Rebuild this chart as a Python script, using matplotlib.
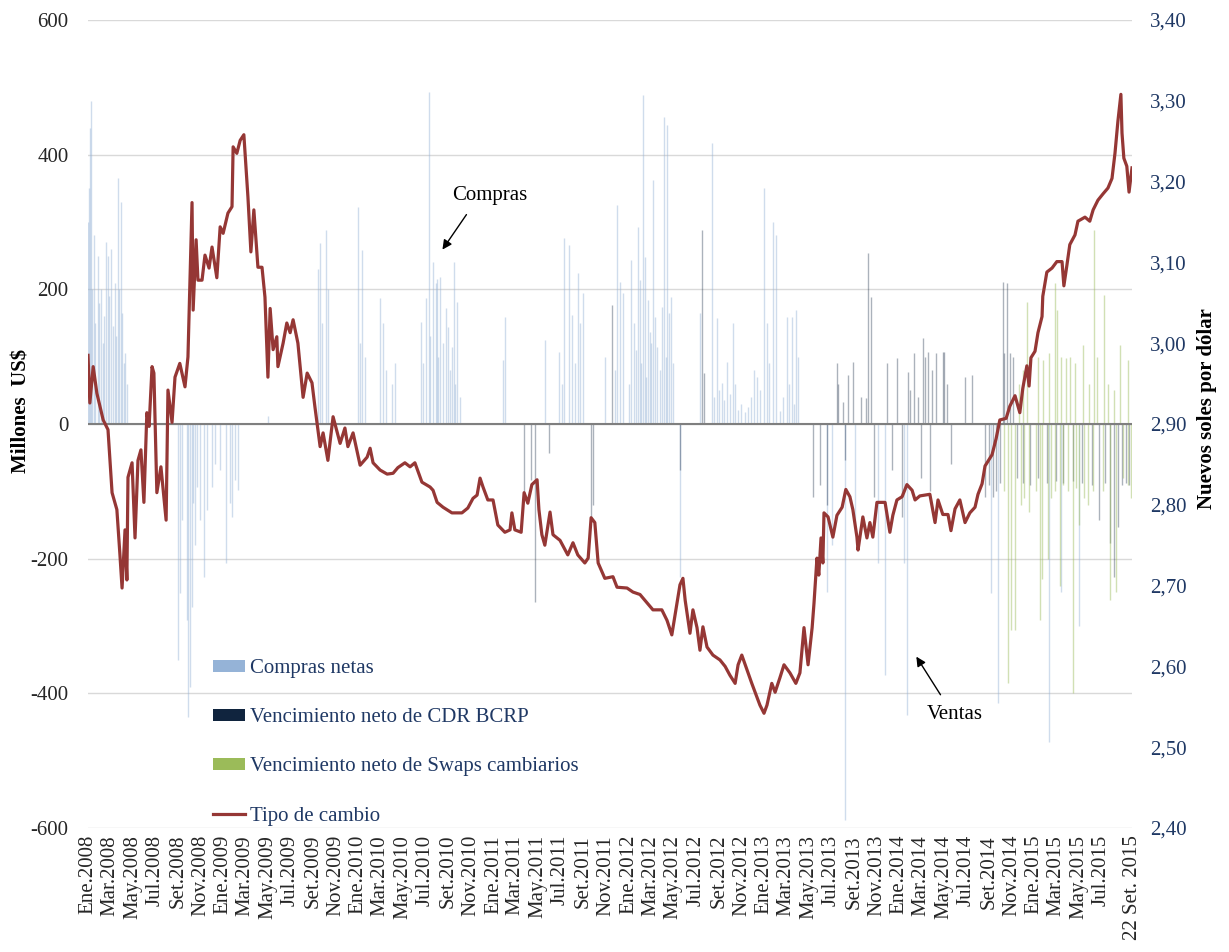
import matplotlib
matplotlib.use("Agg")
import matplotlib.pyplot as plt
from matplotlib.patches import Patch
from matplotlib.lines import Line2D
from matplotlib.ticker import FuncFormatter
import pandas as pd

# Tipo de cambio (soles por dolar)
tc_fechas = [
    "2008-01-02", "2008-01-07", "2008-01-16", "2008-01-26", "2008-02-12", "2008-02-25", "2008-03-07", "2008-03-20",
    "2008-03-28", "2008-04-03", "2008-04-11", "2008-04-16", "2008-04-19", "2008-04-30", "2008-05-08", "2008-05-16",
    "2008-05-24", "2008-06-01", "2008-06-09", "2008-06-15", "2008-06-23", "2008-06-28", "2008-07-06", "2008-07-17",
    "2008-07-31", "2008-08-05", "2008-08-16", "2008-08-24", "2008-09-06", "2008-09-20", "2008-09-28", "2008-10-09",
    "2008-10-12", "2008-10-20", "2008-10-25", "2008-11-05", "2008-11-13", "2008-11-24", "2008-12-02", "2008-12-15",
    "2008-12-24",
    "2009-01-01", "2009-01-14", "2009-01-25", "2009-01-28", "2009-02-07", "2009-02-16", "2009-02-26", "2009-03-09",
    "2009-03-17", "2009-03-25", "2009-04-05", "2009-04-16", "2009-04-24", "2009-05-02", "2009-05-08", "2009-05-16",
    "2009-05-26", "2009-05-29", "2009-06-12", "2009-06-22", "2009-07-01", "2009-07-09", "2009-07-22", "2009-08-05",
    "2009-08-16", "2009-08-29", "2009-09-06", "2009-09-20", "2009-09-28", "2009-10-11", "2009-10-25", "2009-11-13",
    "2009-11-26", "2009-12-04", "2009-12-18",
    "2010-01-06", "2010-01-25", "2010-02-02", "2010-02-10", "2010-03-01", "2010-03-20", "2010-04-05", "2010-04-18",
    "2010-05-07", "2010-05-21", "2010-06-03", "2010-06-22", "2010-07-14", "2010-07-22", "2010-08-02", "2010-08-18",
    "2010-09-11", "2010-10-08", "2010-10-24", "2010-11-07", "2010-11-18", "2010-11-26", "2010-12-04", "2010-12-17",
    "2010-12-31",
    "2011-01-13", "2011-02-01", "2011-02-15", "2011-02-20", "2011-02-28", "2011-03-17", "2011-03-25", "2011-04-04",
    "2011-04-15", "2011-04-29", "2011-05-04", "2011-05-12", "2011-05-20", "2011-06-03", "2011-06-11", "2011-06-30",
    "2011-07-21", "2011-08-04", "2011-08-17", "2011-09-05", "2011-09-14", "2011-09-22", "2011-10-02", "2011-10-11",
    "2011-10-29", "2011-11-20", "2011-12-01", "2011-12-28",
    "2012-01-13", "2012-02-01", "2012-03-07", "2012-03-31", "2012-04-14", "2012-04-27", "2012-05-08", "2012-05-19",
    "2012-05-27", "2012-06-02", "2012-06-15", "2012-06-23", "2012-07-04", "2012-07-12", "2012-07-20", "2012-07-31",
    "2012-08-16", "2012-09-04", "2012-09-18", "2012-10-01", "2012-10-15", "2012-10-23", "2012-11-02", "2012-11-16",
    "2012-11-29", "2012-12-13", "2012-12-21",
    "2013-01-01", "2013-01-09", "2013-01-22", "2013-01-31", "2013-02-13", "2013-02-24", "2013-03-12", "2013-03-28",
    "2013-04-08", "2013-04-19", "2013-04-30", "2013-05-11", "2013-05-16", "2013-05-24", "2013-05-29", "2013-06-04",
    "2013-06-09", "2013-06-12", "2013-06-23", "2013-07-06", "2013-07-17", "2013-07-31", "2013-08-10", "2013-08-21",
    "2013-08-29", "2013-09-09", "2013-09-12", "2013-09-25", "2013-10-06", "2013-10-14", "2013-10-22", "2013-11-02",
    "2013-11-24", "2013-12-07", "2013-12-15", "2013-12-26",
    "2014-01-09", "2014-01-22", "2014-02-05", "2014-02-13", "2014-02-26", "2014-03-25", "2014-04-08", "2014-04-16",
    "2014-04-29", "2014-05-13", "2014-05-21", "2014-06-01", "2014-06-14", "2014-06-28", "2014-07-11", "2014-07-25",
    "2014-08-02", "2014-08-13", "2014-08-21", "2014-09-09", "2014-09-20", "2014-09-30", "2014-10-17", "2014-10-27",
    "2014-11-10", "2014-11-23", "2014-12-01", "2014-12-12", "2014-12-18", "2014-12-23",
    "2015-01-03", "2015-01-11", "2015-01-22", "2015-01-24", "2015-02-04", "2015-02-18", "2015-03-03", "2015-03-17",
    "2015-03-22", "2015-03-30", "2015-04-07", "2015-04-21", "2015-04-29", "2015-05-18", "2015-05-31", "2015-06-09",
    "2015-06-22", "2015-07-06", "2015-07-19", "2015-07-30", "2015-08-07", "2015-08-15", "2015-08-23", "2015-08-26",
    "2015-08-31", "2015-09-08", "2015-09-14", "2015-09-22",
]
tc_valores = [
    2.985, 2.926, 2.971, 2.938, 2.905, 2.893, 2.815, 2.794,
    2.740, 2.697, 2.769, 2.707, 2.834, 2.852, 2.759, 2.855,
    2.868, 2.803, 2.914, 2.897, 2.971, 2.963, 2.815, 2.847,
    2.781, 2.942, 2.902, 2.958, 2.975, 2.946, 2.983, 3.174,
    3.041, 3.128, 3.078, 3.078, 3.109, 3.093, 3.119, 3.081,
    3.144,
    3.136, 3.161, 3.169, 3.243, 3.235, 3.251, 3.258, 3.181,
    3.113, 3.165, 3.094, 3.094, 3.057, 2.958, 3.043, 2.992,
    3.008, 2.971, 3.000, 3.025, 3.013, 3.029, 3.000, 2.933,
    2.963, 2.951, 2.921, 2.872, 2.889, 2.855, 2.909, 2.876,
    2.895, 2.872, 2.889,
    2.849, 2.859, 2.870, 2.852, 2.843, 2.838, 2.839, 2.846,
    2.852, 2.847, 2.852, 2.828, 2.822, 2.818, 2.803, 2.797,
    2.790, 2.790, 2.796, 2.808, 2.812, 2.833, 2.822, 2.806,
    2.806,
    2.775, 2.766, 2.769, 2.790, 2.769, 2.766, 2.815, 2.802,
    2.825, 2.831, 2.794, 2.763, 2.750, 2.791, 2.763, 2.756,
    2.738, 2.753, 2.738, 2.728, 2.734, 2.784, 2.778, 2.728,
    2.709, 2.711, 2.698, 2.697,
    2.692, 2.689, 2.670, 2.670, 2.657, 2.639, 2.670, 2.701,
    2.709, 2.682, 2.641, 2.670, 2.648, 2.620, 2.649, 2.624,
    2.614, 2.608, 2.600, 2.589, 2.579, 2.602, 2.614, 2.596,
    2.579, 2.562, 2.552,
    2.542, 2.552, 2.579, 2.568, 2.586, 2.602, 2.592, 2.579,
    2.592, 2.648, 2.602, 2.648, 2.678, 2.734, 2.713, 2.759,
    2.728, 2.790, 2.785, 2.760, 2.787, 2.797, 2.819, 2.810,
    2.794, 2.760, 2.744, 2.785, 2.759, 2.778, 2.760, 2.803,
    2.803, 2.766, 2.787, 2.806,
    2.810, 2.825, 2.818, 2.806, 2.811, 2.813, 2.778, 2.806,
    2.788, 2.788, 2.768, 2.795, 2.806, 2.778, 2.790, 2.797,
    2.813, 2.826, 2.848, 2.862, 2.882, 2.905, 2.907, 2.922,
    2.935, 2.914, 2.944, 2.972, 2.947, 2.982,
    2.990, 3.013, 3.033, 3.058, 3.088, 3.093, 3.101, 3.101,
    3.071, 3.096, 3.122, 3.134, 3.151, 3.156, 3.151, 3.165,
    3.177, 3.185, 3.192, 3.204, 3.235, 3.275, 3.308, 3.260,
    3.229, 3.219, 3.187, 3.217,
]

# Compras netas (millones US$)
compras_fechas = [
    "2008-01-03", "2008-01-04", "2008-01-07", "2008-01-10", "2008-01-14", "2008-01-17", "2008-01-22", "2008-01-29",
    "2008-02-01", "2008-02-06", "2008-02-11", "2008-02-14", "2008-02-20", "2008-02-25", "2008-02-28", "2008-03-04",
    "2008-03-10", "2008-03-14", "2008-03-18", "2008-03-23", "2008-03-27", "2008-03-31", "2008-04-03", "2008-04-08",
    "2008-04-11", "2008-04-15",
    "2008-09-01", "2008-09-06", "2008-09-12", "2008-09-25", "2008-09-28", "2008-10-03", "2008-10-09", "2008-10-12",
    "2008-10-16", "2008-10-22", "2008-10-30", "2008-11-10", "2008-11-18", "2008-12-02", "2008-12-10", "2008-12-23",
    "2009-01-09", "2009-01-19", "2009-01-25", "2009-02-02", "2009-02-10",
    "2009-05-02", "2009-09-14", "2009-09-20", "2009-09-25", "2009-10-06", "2009-10-11", "2009-12-31", "2010-01-05",
    "2010-01-11", "2010-01-19", "2010-03-01", "2010-03-09", "2010-03-17", "2010-04-02", "2010-04-10",
    "2010-06-19", "2010-06-25", "2010-07-03", "2010-07-11", "2010-07-15", "2010-07-22", "2010-07-30", "2010-08-01",
    "2010-08-05", "2010-08-10", "2010-08-18", "2010-08-26", "2010-08-31", "2010-09-05", "2010-09-11", "2010-09-16",
    "2010-09-20", "2010-09-25", "2010-10-03",
    "2011-01-27", "2011-02-01", "2011-05-20", "2011-06-27", "2011-07-05", "2011-07-11", "2011-07-24", "2011-08-01",
    "2011-08-10", "2011-08-17", "2011-08-23", "2011-08-31",
    "2011-10-29", "2011-11-25", "2011-12-01", "2011-12-09", "2011-12-17", "2012-01-02", "2012-01-08", "2012-01-16",
    "2012-01-20", "2012-01-26", "2012-02-01", "2012-02-05", "2012-02-09", "2012-02-14", "2012-02-18", "2012-02-22",
    "2012-02-28", "2012-03-03", "2012-03-07", "2012-03-12", "2012-03-18", "2012-03-25", "2012-03-31", "2012-04-06",
    "2012-04-10", "2012-04-14", "2012-04-19", "2012-04-25", "2012-04-30", "2012-05-20",
    "2012-07-11", "2012-08-13", "2012-08-20", "2012-08-26", "2012-09-01", "2012-09-09", "2012-09-15", "2012-09-22",
    "2012-10-01", "2012-10-09", "2012-10-15", "2012-10-22", "2012-10-30", "2012-11-10", "2012-11-20", "2012-11-28",
    "2012-12-04", "2012-12-12", "2012-12-20", "2012-12-31", "2013-01-08", "2013-01-15", "2013-01-25", "2013-02-02",
    "2013-02-12", "2013-02-20", "2013-03-03", "2013-03-10", "2013-03-17", "2013-03-22", "2013-03-28", "2013-04-02",
    "2013-06-20", "2013-07-05", "2013-08-07", "2013-09-05", "2013-11-04", "2013-11-23", "2014-01-15", "2014-01-22",
    "2014-09-05", "2014-09-25", "2015-02-10", "2015-03-15", "2015-05-01",
]
compras_valores = [
    300, 350, 440, 480, 200, 280, 150, 250,
    180, 200, 120, 160, 270, 250, 190, 260,
    145, 210, 130, 365, 200, 330, 165, 90,
    105, 60,
    -350, -251, -143, -291, -435, -390, -272, -117,
    -180, -93, -143, -227, -128, -93, -60, -68,
    -207, -117, -138, -83, -98,
    12, 230, 269, 150, 288, 200, 322, 120,
    258, 100, 187, 150, 80, 60, 91,
    151, 90, 187, 493, 130, 240, 209, 216,
    100, 219, 120, 172, 144, 80, 115, 240,
    60, 181, 40,
    95, 159, 125, 107, 60, 276, 266, 162,
    90, 224, 150, 194,
    100, 80, 325, 211, 194, 60, 244, 150,
    110, 293, 214, 90, 489, 248, 70, 184,
    137, 120, 362, 159, 115, 80, 174, 456,
    100, 444, 165, 189, 91, -227,
    165, 417, 40, 157, 50, 61, 35, 92,
    45, 150, 60, 21, 30, 18, 25, 40,
    80, 70, 50, 350, 150, 90, 300, 281,
    20, 40, 159, 60, 159, 30, 169, 100,
    -250, -180, -588, -150, -207, -373, -207, -432,
    -251, -414, -472, -250, -300,
]

# Vencimiento neto de CDR BCRP (millones US$)
cdr_fechas = [
    "2011-03-25", "2011-04-13", "2011-04-23", "2011-05-31", "2011-09-22", "2011-09-27", "2011-11-17", "2012-05-19",
    "2012-07-17", "2012-07-22",
    "2013-05-13", "2013-06-01", "2013-06-20", "2013-07-17", "2013-07-20", "2013-08-02", "2013-08-09", "2013-08-15",
    "2013-08-29", "2013-09-20", "2013-10-03", "2013-10-08", "2013-10-16", "2013-10-25", "2013-11-29", "2013-12-12",
    "2013-12-26", "2014-01-10", "2014-01-25", "2014-01-30", "2014-02-10", "2014-02-21", "2014-02-28", "2014-03-06",
    "2014-03-11", "2014-03-19", "2014-03-25", "2014-03-30", "2014-04-10", "2014-04-29", "2014-05-03", "2014-05-10",
    "2014-05-20", "2014-06-27", "2014-07-16",
    "2014-08-20", "2014-09-01", "2014-09-12", "2014-09-20", "2014-10-01", "2014-10-08", "2014-10-12", "2014-10-20",
    "2014-10-28", "2014-11-05", "2014-11-15", "2014-12-01", "2014-12-20", "2015-01-10", "2015-02-05", "2015-03-01",
    "2015-03-20", "2015-04-15", "2015-05-10", "2015-06-05", "2015-06-25", "2015-07-10", "2015-07-25", "2015-08-05",
    "2015-08-15", "2015-08-25", "2015-09-05", "2015-09-15",
]
cdr_valores = [
    -101, -83, -264, -43, -138, -120, 177, -68,
    288, 76,
    -108, -90, -120, 90, 60, 33, -53, 73,
    92, 40, 39, 254, 188, -108, 90, -68,
    98, -138, 77, 50, 105, 40, -80, 128,
    100, 107, -100, 80, 105, 107, 107, 60,
    -60, 70, 73,
    -108, -90, -108, -100, -88, 211, 105, 209,
    105, 100, -80, -88, -90, -80, -88, -85,
    -88, -85, -88, -90, -143, -88, -177, -227,
    -153, -90, -88, -90,
]

# Vencimiento neto de Swaps cambiarios (millones US$)
swaps_fechas = [
    "2014-10-10", "2014-10-22", "2014-10-30", "2014-11-10", "2014-11-20", "2014-11-25", "2014-12-01", "2014-12-05",
    "2014-12-12", "2014-12-18", "2015-01-05", "2015-01-12", "2015-01-16", "2015-01-22", "2015-01-25", "2015-02-06",
    "2015-02-10", "2015-02-15", "2015-02-25", "2015-02-26", "2015-03-03", "2015-03-11", "2015-03-15", "2015-03-20",
    "2015-03-28", "2015-04-01", "2015-04-08", "2015-04-15", "2015-04-20", "2015-04-25", "2015-05-01", "2015-05-13",
    "2015-05-15", "2015-05-25", "2015-05-28", "2015-06-10", "2015-06-11", "2015-06-20", "2015-07-05", "2015-07-08",
    "2015-07-20", "2015-07-24", "2015-08-05", "2015-08-10", "2015-08-20", "2015-08-28", "2015-09-10", "2015-09-11",
    "2015-09-20",
]
swaps_valores = [
    -100, -385, -306, -306, 60, -120, 80, -110,
    181, -130, -100, 100, -291, -230, 95, -200,
    105, -110, -100, 209, 169, -240, 100, -90,
    98, -100, 100, -400, 90, -95, -150, 117,
    -110, -120, 60, -100, 288, 100, -100, 191,
    60, -261, 50, -250, 117, -80, -90, 95,
    -110,
]

# colores
c_compras = "#95B3D7"
c_cdr = "#10243E"
c_swaps = "#9BBB59"
c_tc = "#953735"
c_azul = "#1F3864"

plt.rcParams["font.family"] = ["Liberation Serif", "DejaVu Serif"]
plt.rcParams["axes.unicode_minus"] = False

fig = plt.figure(figsize=(12.29, 9.52), dpi=100)
ax = fig.add_axes([88 / 1229, 1 - 828 / 952, (1132 - 88) / 1229, (828 - 20) / 952])
ax2 = ax.twinx()

ax.vlines(pd.to_datetime(compras_fechas), 0, compras_valores, colors=c_compras, linewidth=1.0, alpha=0.45)
ax.vlines(pd.to_datetime(cdr_fechas), 0, cdr_valores, colors=c_cdr, linewidth=1.0, alpha=0.35)
ax.vlines(pd.to_datetime(swaps_fechas), 0, swaps_valores, colors=c_swaps, linewidth=1.0, alpha=0.45)

ax.set_ylim(-600, 600)
ax.set_yticks(range(-600, 601, 200))
ax.grid(axis="y", color="#D9D9D9", linewidth=1.0)
ax.set_axisbelow(True)
ax.axhline(0, color="#7F7F7F", linewidth=1.5, zorder=3)

ax2.plot(pd.to_datetime(tc_fechas), tc_valores, color=c_tc, linewidth=2.3, zorder=5)
ax2.set_ylim(2.40, 3.40)
ax2.set_yticks([2.40 + 0.1 * i for i in range(11)])
ax2.yaxis.set_major_formatter(FuncFormatter(lambda v, p: f"{v:.2f}".replace(".", ",")))

ax.set_xlim(pd.Timestamp("2008-01-02"), pd.Timestamp("2015-09-22"))

# etiquetas del eje x cada dos meses
meses = {1: "Ene", 3: "Mar", 5: "May", 7: "Jul", 9: "Set", 11: "Nov"}
ticks, etiquetas = [], []
for anio in range(2008, 2016):
    for m in [1, 3, 5, 7, 9, 11]:
        if anio == 2015 and m > 7:
            break
        ticks.append(pd.Timestamp(anio, m, 1))
        etiquetas.append(f"{meses[m]}.{anio}")
ticks.append(pd.Timestamp("2015-09-22"))
etiquetas.append("22 Set. 2015")
ticks[0] = pd.Timestamp("2008-01-02")
ax.set_xticks(ticks)
ax.set_xticklabels(etiquetas, rotation=90, fontsize=15, color="#262626")

for s in ["top", "left", "right", "bottom"]:
    ax.spines[s].set_visible(False)
    ax2.spines[s].set_visible(False)
ax.tick_params(axis="y", length=0, labelsize=15, labelcolor="#262626", pad=14)
ax.tick_params(axis="x", length=0, pad=5)
ax2.tick_params(axis="y", length=0, labelsize=15, labelcolor=c_azul, pad=13)

fig.text(22 / 1229, 1 - 411 / 952, "Millones  US$", rotation=90, ha="center", va="center",
         fontsize=15, fontweight="bold")
fig.text(1207 / 1229, 1 - 409 / 952, "Nuevos soles por dólar", rotation=90, ha="center", va="center",
         fontsize=15, fontweight="bold")

# anotaciones
ax.text(0.385, 0.783, "Compras", transform=ax.transAxes, ha="center", va="center", fontsize=15)
ax.annotate("", xy=(0.338, 0.713), xytext=(0.364, 0.762), xycoords="axes fraction",
            arrowprops=dict(arrowstyle="-|>", color="black", lw=1.0, mutation_scale=14))
ax.text(0.830, 0.140, "Ventas", transform=ax.transAxes, ha="center", va="center", fontsize=15)
ax.annotate("", xy=(0.792, 0.215), xytext=(0.818, 0.162), xycoords="axes fraction",
            arrowprops=dict(arrowstyle="-|>", color="black", lw=1.0, mutation_scale=14))

handles = [
    Patch(facecolor=c_compras, edgecolor="none"),
    Patch(facecolor=c_cdr, edgecolor="none"),
    Patch(facecolor=c_swaps, edgecolor="none"),
    Line2D([0], [0], color=c_tc, linewidth=2.3),
]
nombres = ["Compras netas", "Vencimiento neto de CDR BCRP", "Vencimiento neto de Swaps cambiarios", "Tipo de cambio"]
leg = ax2.legend(handles, nombres, loc="upper left", bbox_to_anchor=(213 / 1229, 1 - 659 / 952),
                 bbox_transform=fig.transFigure, frameon=False, fontsize=15, labelspacing=1.45,
                 handlelength=1.55, handleheight=0.5, handletextpad=0.25, borderpad=0, borderaxespad=0)
for t in leg.get_texts():
    t.set_color(c_azul)

fig.savefig("out.png", dpi=100)
